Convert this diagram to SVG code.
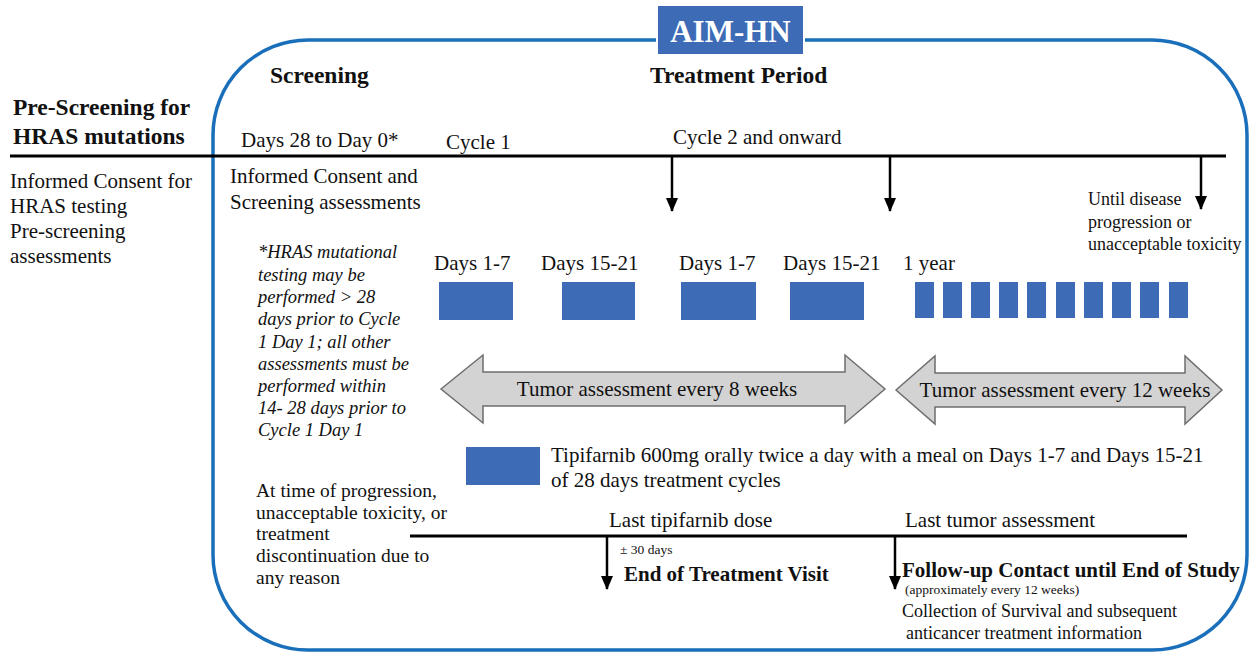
<svg xmlns="http://www.w3.org/2000/svg" width="1253" height="655" viewBox="0 0 1253 655">
<style>
text{font-family:"Liberation Serif","Times New Roman",serif;fill:#111}
.b{font-weight:bold}
.t21{font-size:21px}
.t20{font-size:21px}
.t18{font-size:18px}
.t19{font-size:19.5px}
.it{font-size:18.5px;font-style:italic}
.hd{font-size:23.5px;font-weight:bold}
.sm{font-size:13.5px}
.dose{fill:#3d6bb5}
.ln{stroke:#000;stroke-width:3;fill:none}
.ar{stroke:#000;stroke-width:2.5;fill:none;marker-end:url(#ah)}
.dbl{fill:#d3d3d3;stroke:#6e6e6e;stroke-width:1.5}
</style>
<defs>
<marker id="ah" markerUnits="userSpaceOnUse" markerWidth="12" markerHeight="14" refX="6" refY="13" orient="0" viewBox="0 0 12 14">
<path d="M0,0 L12,0 L6,14 z" fill="#000"/>
</marker>
</defs>
<rect width="1253" height="655" fill="#fff"/>
<g id="frame">
<rect x="213" y="40" width="1034" height="610" rx="95" ry="95" fill="none" stroke="#1a6fba" stroke-width="3.5"/>
</g>
<g id="title">
<rect x="657" y="5" width="147" height="50" fill="#3d6bb5" stroke="#fff" stroke-width="2"/>
<text x="730.5" y="42" text-anchor="middle" class="b" style="font-size:31px;fill:#fff">AIM-HN</text>
</g>
<g id="headers">
<text x="270" y="83" class="hd">Screening</text>
<text x="650" y="83" class="hd">Treatment Period</text>
<text x="13" y="115" class="hd">Pre-Screening for</text>
<text x="13" y="144" class="hd">HRAS mutations</text>
<text x="241" y="147" class="t20">Days 28 to Day 0*</text>
<text x="446" y="149" class="t20">Cycle 1</text>
<text x="673" y="144" class="t20">Cycle 2 and onward</text>
</g>
<g id="connectors">
<line class="ln" x1="10" y1="156" x2="1226" y2="156"/>
<line class="ln" x1="410" y1="536" x2="1187" y2="536"/>
<line class="ar" x1="672" y1="157" x2="672" y2="211"/>
<line class="ar" x1="890" y1="157" x2="890" y2="211"/>
<line class="ar" x1="1201" y1="157" x2="1201" y2="209"/>
<line class="ar" x1="607" y1="537" x2="607" y2="589"/>
<line class="ar" x1="895" y1="537" x2="895" y2="589"/>
</g>
<g id="prescreening">
<text x="10" y="188" class="t20">Informed Consent for</text>
<text x="10" y="213" class="t20">HRAS testing</text>
<text x="10" y="238" class="t20">Pre-screening</text>
<text x="10" y="263" class="t20">assessments</text>
</g>
<g id="screening">
<text x="230" y="183" class="t20">Informed Consent and</text>
<text x="230" y="209" class="t20">Screening assessments</text>
</g>
<g id="note">
<text x="258" y="258" class="it">*HRAS mutational</text>
<text x="258" y="281" class="it">testing may be</text>
<text x="258" y="303" class="it">performed &gt; 28</text>
<text x="258" y="325" class="it">days prior to Cycle</text>
<text x="258" y="348" class="it">1 Day 1; all other</text>
<text x="258" y="370" class="it">assessments must be</text>
<text x="258" y="392" class="it">performed within</text>
<text x="258" y="414" class="it">14- 28 days prior to</text>
<text x="258" y="436" class="it">Cycle 1 Day 1</text>
</g>
<g id="until">
<text x="1088" y="205" class="t18">Until disease</text>
<text x="1088" y="228" class="t18">progression or</text>
<text x="1088" y="250" class="t18">unacceptable toxicity</text>
</g>
<g id="doses">
<text x="434" y="270" class="t20">Days 1-7</text>
<text x="541" y="270" class="t20">Days 15-21</text>
<text x="679" y="270" class="t20">Days 1-7</text>
<text x="783" y="270" class="t20">Days 15-21</text>
<text x="903" y="270" class="t20">1 year</text>
<rect class="dose" x="439" y="282" width="74" height="38"/>
<rect class="dose" x="562" y="282" width="73" height="38"/>
<rect class="dose" x="681" y="282" width="75" height="38"/>
<rect class="dose" x="790" y="282" width="74" height="38"/>
<rect class="dose" x="915" y="282" width="19" height="36"/>
<rect class="dose" x="943" y="282" width="19" height="36"/>
<rect class="dose" x="971" y="282" width="19" height="36"/>
<rect class="dose" x="999" y="282" width="19" height="36"/>
<rect class="dose" x="1027" y="282" width="19" height="36"/>
<rect class="dose" x="1056" y="282" width="19" height="36"/>
<rect class="dose" x="1084" y="282" width="19" height="36"/>
<rect class="dose" x="1112" y="282" width="19" height="36"/>
<rect class="dose" x="1140" y="282" width="19" height="36"/>
<rect class="dose" x="1169" y="282" width="19" height="36"/>
</g>
<g id="tumor8">
<polygon class="dbl" points="441,389 483,355 483,372 845,372 845,355 885,389 845,423 845,406 483,406 483,423"/>
<text x="657" y="396" text-anchor="middle" class="t20">Tumor assessment every 8 weeks</text>
</g>
<g id="tumor12">
<polygon class="dbl" points="896,390 935,356 935,373 1185,373 1185,356 1222,390 1185,424 1185,407 935,407 935,424"/>
<text x="1065" y="397" text-anchor="middle" class="t20">Tumor assessment every 12 weeks</text>
</g>
<g id="legend">
<rect class="dose" x="466" y="447" width="74" height="38"/>
<text x="551" y="462" class="t20">Tipifarnib 600mg orally twice a day with a meal on Days 1-7 and Days 15-21</text>
<text x="551" y="487" class="t20">of 28 days treatment cycles</text>
</g>
<g id="progression">
<text x="256" y="497" class="t19">At time of progression,</text>
<text x="256" y="519" class="t19">unacceptable toxicity, or</text>
<text x="256" y="540" class="t19">treatment</text>
<text x="256" y="562" class="t19">discontinuation due to</text>
<text x="256" y="584" class="t19">any reason</text>
</g>
<g id="eot">
<text x="609" y="527" class="t20">Last tipifarnib dose</text>
<text x="620" y="554" class="sm">± 30 days</text>
<text x="624" y="581" class="b t20">End of Treatment Visit</text>
</g>
<g id="followup">
<text x="905" y="527" class="t20">Last tumor assessment</text>
<text x="902" y="577" class="b t20">Follow-up Contact until End of Study</text>
<text x="905" y="594" class="sm">(approximately every 12 weeks)</text>
<text x="902" y="617" class="t18">Collection of Survival and subsequent</text>
<text x="906" y="639" class="t18">anticancer treatment information</text>
</g>
</svg>
